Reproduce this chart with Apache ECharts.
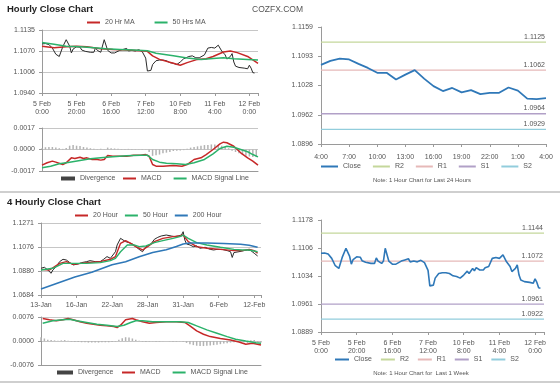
<!DOCTYPE html>
<html><head><meta charset="utf-8">
<script src="https://cdn.jsdelivr.net/npm/echarts@6/dist/echarts.min.js"></script>
<style>html,body{margin:0;padding:0;background:#fff}#c{width:560px;height:386px}</style>
</head><body><div id="c"></div>
<script>
// ===== Hourly (last week) =====
const hourTickLabels = ['5 Feb\n0:00','5 Feb\n20:00','6 Feb\n16:00','7 Feb\n12:00','10 Feb\n8:00','11 Feb\n4:00','12 Feb\n0:00'];
const hourlyPriceTicks = ['1.0940','1.1006','1.1070','1.1135'];
const hourlyMacdTicks = ['-0.0017','0.0000','0.0017'];
const hourlyClose = [[0,1.1092],[2,1.1093],[4,1.1090],[6,1.1079],[8,1.1060],[10,1.1053],[11,1.1055],[12,1.1083],[14,1.1105],[15,1.1100],[16,1.1085],[17,1.1064],[18,1.1076],[20,1.1083],[22,1.1082],[23,1.1073],[25,1.1069],[28,1.1066],[30,1.1066],[31,1.1080],[32,1.1072],[34,1.1066],[35,1.1072],[36,1.1105],[37,1.1101],[38,1.1072],[40,1.1064],[42,1.1064],[43,1.1069],[45,1.1072],[47,1.1075],[49,1.1078],[50,1.1070],[52,1.1072],[54,1.1070],[56,1.1074],[58,1.1068],[59,1.1070],[60,1.1048],[61,1.1008],[62,1.1006],[63,1.1010],[64,1.1028],[66,1.1040],[68,1.1042],[70,1.1042],[72,1.1040],[74,1.1034],[76,1.1032],[78,1.1028],[79,1.1026],[80,1.1036],[81,1.1034],[82,1.1046],[83,1.1040],[85,1.1053],[86,1.1047],[87,1.1055],[89,1.1049],[90,1.1045],[91,1.1049],[92,1.1055],[94,1.1058],[95,1.1058],[96,1.1079],[97,1.1083],[98,1.1081],[100,1.1079],[102,1.1088],[103,1.1083],[104,1.1070],[106,1.1058],[107,1.1045],[109,1.1053],[110,1.1062],[111,1.1036],[112,1.1023],[114,1.1019],[115,1.1015],[117,1.1017],[118,1.1012],[119,1.1015],[120,1.1026],[121,1.1017],[122,1.1003],[123,1.1002]];
const hourlyMA20 = [[0,1.1085],[7,1.1080],[14,1.1083],[20,1.1085],[26,1.1083],[34,1.1077],[41,1.1075],[49,1.1073],[57,1.1071],[61,1.1069],[64,1.1055],[68,1.1044],[76,1.1032],[80,1.1026],[84,1.1034],[90,1.1044],[95,1.1046],[99,1.1053],[105,1.1067],[109,1.1070],[113,1.1065],[119,1.1053],[125,1.1032]];
const hourlyMA50 = [[0,1.1096],[7,1.1091],[14,1.1085],[22,1.1083],[30,1.1080],[37,1.1077],[45,1.1075],[53,1.1073],[61,1.1071],[66,1.1063],[76,1.1055],[84,1.1048],[92,1.1044],[99,1.1047],[105,1.1049],[111,1.1046],[119,1.1044],[125,1.1042]];
const hourlyMACD = [[0,-0.00124],[3,-0.00105],[6,-0.00092],[8,-0.00100],[12,-0.00119],[14,-0.00105],[17,-0.00066],[19,-0.00071],[22,-0.00061],[24,-0.00071],[26,-0.00066],[29,-0.00079],[32,-0.00079],[34,-0.00084],[36,-0.00079],[38,-0.00047],[41,-0.00053],[45,-0.00053],[49,-0.00053],[53,-0.00045],[57,-0.00045],[60,-0.00040],[62,-0.00053],[64,-0.00119],[66,-0.00132],[70,-0.00132],[76,-0.00127],[81,-0.00132],[84,-0.00119],[88,-0.00079],[92,-0.00066],[95,-0.00040],[99,0.00000],[103,0.00045],[105,0.00058],[107,0.00053],[111,0.00026],[115,-0.00026],[119,-0.00066],[122,-0.00092],[125,-0.00124]];
const hourlySignal = [[0,-0.00145],[5,-0.00132],[10,-0.00113],[16,-0.00100],[22,-0.00087],[28,-0.00074],[34,-0.00066],[41,-0.00058],[49,-0.00050],[57,-0.00045],[61,-0.00045],[64,-0.00079],[68,-0.00100],[72,-0.00108],[78,-0.00113],[83,-0.00119],[88,-0.00105],[94,-0.00079],[99,-0.00034],[103,0.00008],[107,0.00026],[111,0.00018],[115,0.00000],[119,-0.00018],[122,-0.00040],[125,-0.00058]];
const hourlyDivergence = [[0,0.0001],[2,0.00018],[4,0.0002],[6,0.0002],[8,0.00015],[10,0.0001],[12,0.00005],[14,0.00012],[16,0.0003],[18,0.00035],[20,0.0003],[22,0.00028],[24,0.0002],[26,0.00015],[28,0.0001],[30,0.00005],[32,0.00003],[34,0.00005],[36,0.00002],[38,0.00015],[40,0.0001],[42,0.00008],[44,0.00005],[46,0.00004],[48,0.00004],[50,0.00005],[52,0.00004],[54,0.00003],[56,0.00002],[58,0.00003],[60,0.00002],[62,-0.0002],[64,-0.0005],[66,-0.00045],[68,-0.0004],[70,-0.0003],[72,-0.00025],[74,-0.0002],[76,-0.00012],[78,-0.0001],[80,-0.00008],[82,-0.00005],[84,0.00005],[86,0.00015],[88,0.0002],[90,0.00025],[92,0.0003],[94,0.00035],[96,0.00035],[98,0.0004],[100,0.0004],[102,0.00035],[104,0.0003],[106,0.0002],[108,0.0001],[110,-0.0001],[112,-0.0002],[114,-0.0003],[116,-0.0004],[118,-0.0005],[120,-0.00055],[122,-0.0006],[124,-0.0006]];

// ===== Last 24 hours =====
const dayTickLabels = ['4:00','7:00','10:00','13:00','16:00','19:00','22:00','1:00','4:00'];
const dayPriceTicks = ['1.0896','1.0962','1.1028','1.1093','1.1159'];
const dayClose = [1.1074,1.1083,1.1088,1.1086,1.1076,1.1067,1.1056,1.1056,1.1041,1.1052,1.1062,1.1043,1.1026,1.1015,1.1022,1.1012,1.1017,1.1008,1.1011,1.1011,1.1023,1.1016,1.0998,1.0997,1.0999];
const levelNames = ['R2','R1','S1','S2'];
const dayLevels = [1.1125,1.1062,1.0964,1.0929];

// ===== Last week (hourly) =====
const weekPriceTicks = ['1.0889','1.0961','1.1034','1.1106','1.1178'];
const weekLevels = [1.1144,1.1072,1.0961,1.0922];

// ===== 4 Hourly =====
const h4TickLabels = ['13-Jan','16-Jan','22-Jan','28-Jan','31-Jan','6-Feb','12-Feb'];
const h4PriceTicks = ['1.0684','1.0880','1.1076','1.1271'];
const h4MacdTicks = ['-0.0076','0.0000','0.0076'];
const h4Close = [[0,1.0902],[2,1.0910],[4,1.0888],[6,1.0861],[7,1.0888],[9,1.0915],[11,1.0956],[13,1.0975],[15,1.0969],[17,1.0948],[19,1.0929],[22,1.0937],[24,1.0948],[27,1.0956],[29,1.0964],[32,1.0956],[35,1.0956],[37,1.0975],[39,1.0997],[41,1.0983],[42,1.0991],[44,1.1037],[45,1.1092],[47,1.1146],[48,1.1160],[50,1.1119],[52,1.1111],[54,1.1100],[56,1.1078],[58,1.1056],[60,1.1037],[62,1.1078],[63,1.1092],[65,1.1100],[67,1.1138],[69,1.1154],[71,1.1165],[74,1.1173],[77,1.1165],[79,1.1160],[81,1.1165],[83,1.1173],[84,1.1200],[85,1.1132],[86,1.1100],[88,1.1092],[90,1.1078],[92,1.1084],[94,1.1065],[97,1.1073],[100,1.1056],[102,1.1051],[104,1.1056],[107,1.1056],[110,1.1046],[112,1.1037],[113,1.0990],[114,1.1030],[115,1.1046],[117,1.1037],[120,1.1046],[122,1.1051],[124,1.1046],[126,1.1024],[128,1.1002]];
const h4MA20 = [[0,1.0893],[5,1.0888],[11,1.0942],[15,1.0956],[19,1.0934],[27,1.0948],[35,1.0956],[41,1.0975],[44,1.0997],[47,1.1105],[50,1.1127],[53,1.1105],[56,1.1078],[60,1.1051],[63,1.1078],[67,1.1119],[72,1.1146],[78,1.1160],[82,1.1165],[84,1.1173],[87,1.1119],[92,1.1078],[98,1.1065],[106,1.1056],[114,1.1046],[119,1.1046],[123,1.1056],[126,1.1046],[128,1.1024]];
const h4MA50 = [[0,1.0888],[7,1.0902],[13,1.0942],[19,1.0942],[27,1.0942],[35,1.0948],[41,1.0964],[44,1.0983],[47,1.1037],[51,1.1092],[55,1.1092],[58,1.1078],[62,1.1084],[67,1.1111],[72,1.1127],[78,1.1146],[82,1.1160],[84,1.1173],[87,1.1146],[92,1.1111],[98,1.1092],[106,1.1073],[114,1.1056],[119,1.1051],[123,1.1051],[128,1.1037]];
const h4MA200 = [[0,1.0733],[10,1.0782],[20,1.0830],[30,1.0870],[42,1.0930],[50,1.0955],[58,1.0995],[66,1.1030],[74,1.1053],[80,1.1080],[84,1.1100],[88,1.1108],[98,1.1108],[108,1.1104],[118,1.1098],[123,1.1090],[128,1.1073]];
const h4MACD = [[1,0.00714],[5,0.00671],[9,0.00639],[13,0.00671],[16,0.00714],[19,0.00671],[23,0.00607],[27,0.00565],[31,0.00533],[35,0.00501],[39,0.00479],[43,0.00458],[45,0.00426],[47,0.00501],[50,0.00671],[54,0.00714],[56,0.00671],[60,0.00607],[64,0.00565],[68,0.00586],[74,0.00607],[80,0.00607],[85,0.00586],[88,0.00479],[92,0.00320],[96,0.00214],[100,0.00139],[106,0.00076],[112,0.00033],[117,-0.00031],[121,-0.00105],[125,-0.00073],[130,-0.00127]];
const h4Signal = [[1,0.00565],[7,0.00639],[13,0.00671],[17,0.00692],[21,0.00639],[27,0.00586],[33,0.00533],[39,0.00501],[45,0.00458],[49,0.00501],[53,0.00586],[56,0.00639],[60,0.00639],[66,0.00607],[74,0.00607],[82,0.00607],[87,0.00586],[92,0.00479],[98,0.00352],[104,0.00246],[110,0.00139],[115,0.00054],[121,0.00000],[127,-0.00052],[130,-0.00073]];
const h4Divergence = [[0,0.0012],[2,0.0008],[4,0.0004],[6,0.0003],[8,0.0002],[10,0.0001],[12,0.0002],[14,0.0003],[16,0.0001],[18,-0.0002],[20,-0.0003],[22,-0.0003],[24,-0.0004],[26,-0.0004],[28,-0.0005],[30,-0.0005],[32,-0.0005],[34,-0.0005],[36,-0.0004],[38,-0.0004],[40,-0.0004],[42,-0.0003],[44,-0.0002],[46,0.0004],[48,0.0009],[50,0.0012],[52,0.0011],[54,0.0008],[56,0.0004],[58,0.0001],[60,-0.0002],[62,-0.0003],[64,-0.0002],[66,-0.0001],[68,-0.0002],[70,-0.0002],[72,-0.0001],[74,0],[76,-0.0001],[78,-0.0002],[80,-0.0002],[82,-0.0001],[84,-0.0002],[86,-0.0006],[88,-0.0010],[90,-0.0013],[92,-0.0015],[94,-0.0016],[96,-0.0016],[98,-0.0015],[100,-0.0014],[102,-0.0013],[104,-0.0012],[106,-0.0010],[108,-0.0008],[110,-0.0007],[112,-0.0005],[114,-0.0004],[116,-0.0003],[118,-0.0002],[120,-0.0004],[122,-0.0006],[124,0.0002],[126,0.0003],[128,-0.0003],[130,-0.0005]];

// ===== styling =====
const FONT = '"Liberation Sans", Arial, sans-serif';
const AX = '#9a9a9a', TXT = '#555';
const RED = '#c62828', GREEN = '#2bb26a', BLUE = '#2f78b8', PRICE = '#2a2a2a';
const levelColors = ['#c4d79b','#e6b9b8','#b1a0c7','#92cddc'];

function yAxisFor(gi, ticks, split, margin) {
  const min = parseFloat(ticks[0]), n = ticks.length - 1;
  const interval = (parseFloat(ticks[n]) - min) / n;
  return {
    type: 'value', gridIndex: gi, min: min, max: min + n * interval, interval: interval,
    axisLine: {show: true, lineStyle: {color: AX}},
    axisTick: {show: true, length: 3, lineStyle: {color: AX}},
    axisLabel: {fontSize: 7, color: TXT, fontFamily: FONT, margin: margin,
      formatter: v => ticks[Math.round((v - min) / interval)] || ''},
    splitLine: {show: split, lineStyle: {color: '#c6c6c6', width: 1}}
  };
}
function xAxisFor(gi, labels, max, interval, showLabels, margin) {
  return {
    type: 'value', gridIndex: gi, min: 0, max: max, interval: interval,
    axisLine: {show: true, onZero: false, lineStyle: {color: AX}},
    axisTick: {show: showLabels, length: 3, lineStyle: {color: AX}},
    axisLabel: {show: showLabels, fontSize: 7, color: TXT, fontFamily: FONT, margin: margin, lineHeight: 8,
      formatter: v => { const k = v / interval, r = Math.round(k); return Math.abs(k - r) < 1e-6 ? (labels[r] || '') : ''; }},
    splitLine: {show: false}
  };
}
function line(name, xi, data, color, width) {
  return {name: name, type: 'line', xAxisIndex: xi, yAxisIndex: xi, data: data, color: color,
    symbol: 'none', lineStyle: {color: color, width: width}, silent: true, z: 3};
}
function levelSeries(xi, value, idx, xmax) {
  return {name: levelNames[idx], type: 'line', xAxisIndex: xi, yAxisIndex: xi, color: levelColors[idx],
    symbol: 'circle', symbolSize: 0, showSymbol: true, silent: true, z: 2,
    lineStyle: {color: levelColors[idx], width: 1.3},
    data: [[0, value], {value: [xmax, value], label: {show: true, position: 'top', align: 'right', distance: 2,
      offset: [-1, 0], fontSize: 7, color: TXT, fontFamily: FONT, formatter: value.toFixed(4)}}]};
}
const legendBase = {padding: 0, selectedMode: false, icon: 'rect', itemHeight: 2,
  textStyle: {fontSize: 7, color: TXT, fontFamily: FONT}};

const option = {
  animation: false,
  backgroundColor: '#fff',
  grid: [
    {left: 42, top: 30, width: 216, height: 63},
    {left: 42, top: 128, width: 216, height: 43},
    {left: 321, top: 27, width: 225, height: 117},
    {left: 41, top: 223, width: 220, height: 72},
    {left: 41, top: 317, width: 220, height: 48},
    {left: 321, top: 220, width: 223, height: 112}
  ],
  xAxis: [
    xAxisFor(0, hourTickLabels, 125, 20, true, 7),
    xAxisFor(1, hourTickLabels, 125, 20, false, 7),
    xAxisFor(2, dayTickLabels, 24, 3, true, 9),
    xAxisFor(3, h4TickLabels, 130, 21, true, 6),
    xAxisFor(4, h4TickLabels, 130, 21, false, 6),
    xAxisFor(5, hourTickLabels, 125, 20, true, 7)
  ],
  yAxis: [
    yAxisFor(0, hourlyPriceTicks, true, 7),
    yAxisFor(1, hourlyMacdTicks, true, 7),
    yAxisFor(2, dayPriceTicks, false, 8),
    yAxisFor(3, h4PriceTicks, true, 7),
    yAxisFor(4, h4MacdTicks, true, 7),
    yAxisFor(5, weekPriceTicks, false, 8)
  ],
  legend: [
    Object.assign({}, legendBase, {left: 87, top: 19, itemWidth: 13, itemGap: 20, data: ['20 Hr MA', '50 Hrs MA']}),
    Object.assign({}, legendBase, {left: 61, top: 175, itemWidth: 14, itemHeight: 4,
      data: [{name: 'Divergence', itemStyle: {color: '#444'}}]}),
    Object.assign({}, legendBase, {left: 123, top: 175, itemWidth: 13, itemGap: 12, data: ['MACD', 'MACD Signal Line']}),
    Object.assign({}, legendBase, {left: 321, top: 163, itemWidth: 17, itemGap: 12, data: ['Close', 'R2', 'R1', 'S1', 'S2']}),
    Object.assign({}, legendBase, {left: 75, top: 212, itemWidth: 13, itemGap: 7, data: ['20 Hour', '50 Hour', '200 Hour']}),
    Object.assign({}, legendBase, {left: 57, top: 369, itemWidth: 16, itemHeight: 4,
      data: [{name: 'Divergence', itemStyle: {color: '#444'}}]}),
    Object.assign({}, legendBase, {left: 122, top: 369, itemWidth: 13, itemGap: 12, data: ['MACD', 'MACD Signal Line']}),
    Object.assign({}, legendBase, {left: 335, top: 356, itemWidth: 14, itemGap: 9, data: ['Close', 'R2', 'R1', 'S1', 'S2']})
  ],
  graphic: [
    {type: 'text', left: 7, top: 4, style: {text: 'Hourly Close Chart', font: 'bold 9.5px ' + FONT, fill: '#222'}},
    {type: 'text', left: 252, top: 5, style: {text: 'COZFX.COM', font: '8.5px ' + FONT, fill: '#555'}},
    {type: 'text', left: 7, top: 197, style: {text: '4 Hourly Close Chart', font: 'bold 9.5px ' + FONT, fill: '#222'}},
    {type: 'text', x: 422, y: 180, style: {text: 'Note: 1 Hour Chart for Last 24 Hours', font: '6px ' + FONT, fill: '#555', align: 'center', verticalAlign: 'middle'}},
    {type: 'text', x: 421, y: 373, style: {text: 'Note: 1 Hour Chart for  Last 1 Week', font: '6px ' + FONT, fill: '#555', align: 'center', verticalAlign: 'middle'}},
    {type: 'line', shape: {x1: 0, y1: 192, x2: 560, y2: 192}, style: {stroke: '#cfcfcf', lineWidth: 2}},
    {type: 'line', shape: {x1: 0, y1: 382, x2: 560, y2: 382}, style: {stroke: '#cfcfcf', lineWidth: 2}}
  ],
  series: [
    line('Hourly Price', 0, hourlyClose, PRICE, 1),
    line('20 Hr MA', 0, hourlyMA20, RED, 1.5),
    line('50 Hrs MA', 0, hourlyMA50, GREEN, 1.5),
    {name: 'Divergence', type: 'bar', xAxisIndex: 1, yAxisIndex: 1, data: hourlyDivergence, barWidth: 1.5,
      color: '#b3b3b3', itemStyle: {color: '#b3b3b3'}, silent: true},
    line('MACD', 1, hourlyMACD, RED, 1.5),
    line('MACD Signal Line', 1, hourlySignal, GREEN, 1.5),
    line('Close', 2, dayClose.map((v, i) => [i, v]), BLUE, 1.8),
    ...dayLevels.map((v, i) => levelSeries(2, v, i, 24)),
    line('4H Price', 3, h4Close, PRICE, 1),
    line('20 Hour', 3, h4MA20, RED, 1.4),
    line('50 Hour', 3, h4MA50, GREEN, 1.4),
    line('200 Hour', 3, h4MA200, BLUE, 1.6),
    {name: 'Divergence', type: 'bar', xAxisIndex: 4, yAxisIndex: 4, data: h4Divergence, barWidth: 1.5,
      color: '#b3b3b3', itemStyle: {color: '#b3b3b3'}, silent: true},
    line('MACD', 4, h4MACD, RED, 1.5),
    line('MACD Signal Line', 4, h4Signal, GREEN, 1.5),
    line('Close', 5, hourlyClose, BLUE, 1.6),
    ...weekLevels.map((v, i) => levelSeries(5, v, i, 125))
  ]
};
const chart = echarts.init(document.getElementById('c'), null, {renderer: 'canvas'});
chart.setOption(option);
</script></body></html>
